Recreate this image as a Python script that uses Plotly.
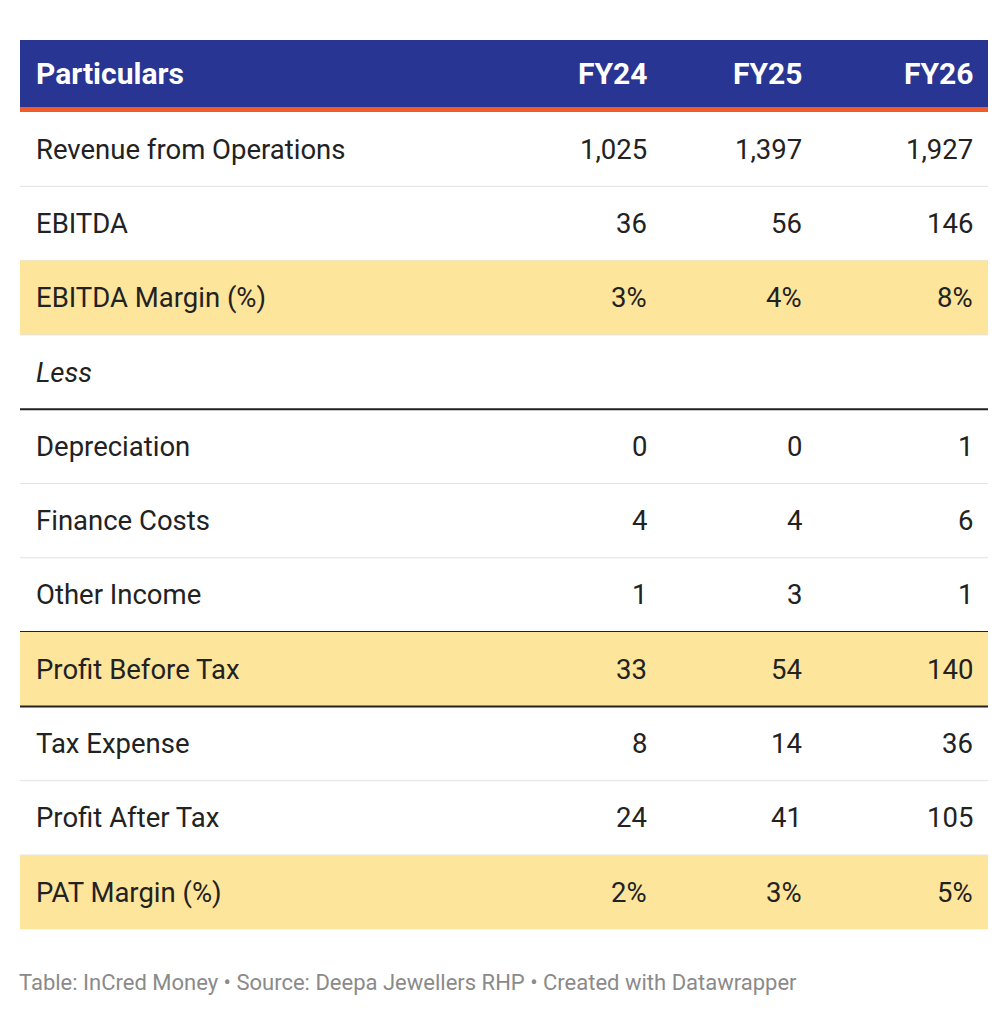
import plotly.graph_objects as go

columns = ["Particulars", "FY24", "FY25", "FY26"]
particulars = ["Revenue from Operations", "EBITDA", "EBITDA Margin (%)", "Less",
               "Depreciation", "Finance Costs", "Other Income", "Profit Before Tax",
               "Tax Expense", "Profit After Tax", "PAT Margin (%)"]
fy24 = ["1,025", "36", "3%", "", "0", "4", "1", "33", "8", "24", "2%"]
fy25 = ["1,397", "56", "4%", "", "0", "4", "3", "54", "14", "41", "3%"]
fy26 = ["1,927", "146", "8%", "", "1", "6", "1", "140", "36", "105", "5%"]
highlight = {"EBITDA Margin (%)", "Profit Before Tax", "PAT Margin (%)"}
italic = {"Less"}
black_below = {"Less", "Other Income", "Profit Before Tax"}

W, H = 1008, 1016
OFF = 8  # page body margin
left, right = 20 - OFF, 988 - OFF
head_top, head_bot, orange_h = 40 - OFF, 107 - OFF, 5
row_h = 74.3
col_x = [34 - OFF, 649 - OFF, 804 - OFF, 975 - OFF]
FONT = "Roboto"

fig = go.Figure()
shapes, ann = [], []
shapes.append(dict(type="rect", x0=left, x1=right, y0=head_top, y1=head_bot,
                   fillcolor="#283593", line_width=0))
shapes.append(dict(type="rect", x0=left, x1=right, y0=head_bot, y1=head_bot + orange_h,
                   fillcolor="#f15a29", line_width=0))
hy = (head_top + head_bot) / 2
for i, c in enumerate(columns):
    ann.append(dict(x=col_x[i], y=hy, text="<b>%s</b>" % c, showarrow=False,
                    xanchor="left" if i == 0 else "right",
                    font=dict(family=FONT, size=30, color="white")))

top = head_bot + orange_h
for r, name in enumerate(particulars):
    y0 = top + r * row_h
    y1 = y0 + row_h
    yc = (y0 + y1) / 2
    if name in highlight:
        shapes.append(dict(type="rect", x0=left, x1=right, y0=y0, y1=y1,
                           fillcolor="#fee59c", line_width=0))
    if r < len(particulars) - 1:
        black = name in black_below
        shapes.append(dict(type="line", x0=left, x1=right, y0=y1, y1=y1,
                           line=dict(color="#222222" if black else "#e2e2e2",
                                     width=2 if black else 1)))
    label = "<i>%s</i>" % name if name in italic else name
    ann.append(dict(x=col_x[0], y=yc, text=label, showarrow=False, xanchor="left",
                    font=dict(family=FONT, size=27.5, color="#222222")))
    for i, vals in enumerate([fy24, fy25, fy26]):
        ann.append(dict(x=col_x[i + 1], y=yc, text=vals[r], showarrow=False, xanchor="right",
                        font=dict(family=FONT, size=27.5, color="#222222")))

ann.append(dict(x=left - 3, y=982 - OFF, showarrow=False, xanchor="left",
                text="Table: InCred Money • Source: Deepa Jewellers RHP • Created with Datawrapper",
                font=dict(family=FONT, size=22, color="#8a8a8a")))

fig.update_layout(width=W, height=H, margin=dict(l=0, r=0, t=0, b=0),
                  plot_bgcolor="white", paper_bgcolor="white",
                  xaxis=dict(range=[0, W], visible=False, fixedrange=True),
                  yaxis=dict(range=[H, 0], visible=False, fixedrange=True),
                  shapes=shapes, annotations=ann, showlegend=False)
fig.write_html("out.html")
